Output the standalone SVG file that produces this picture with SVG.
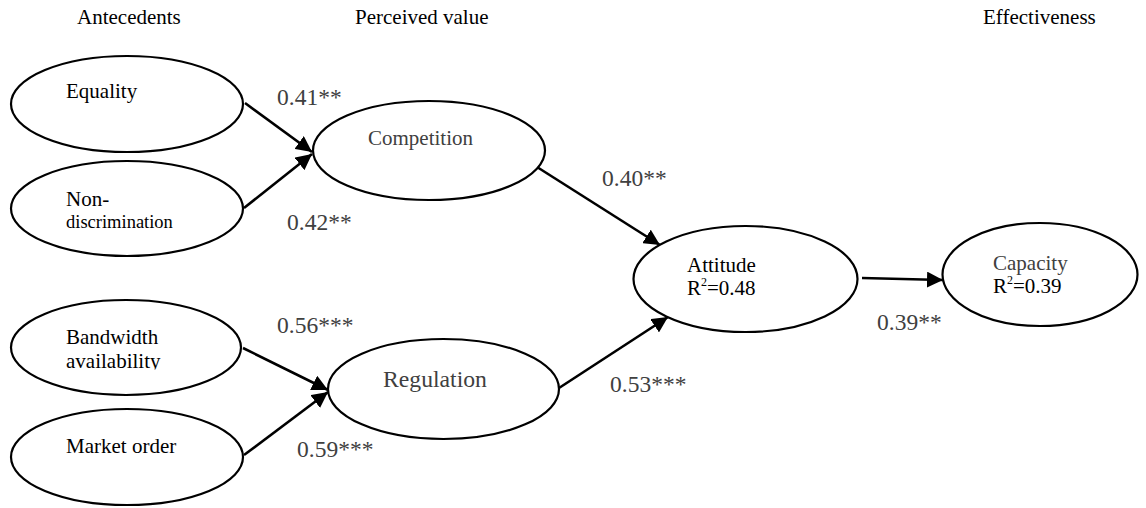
<svg xmlns="http://www.w3.org/2000/svg" width="1146" height="508" viewBox="0 0 1146 508">
<style>
  .node ellipse { fill: #ffffff; stroke: #000000; stroke-width: 2.2; }
  text { font-family: "Liberation Serif", "Times New Roman", serif; font-size: 21px; fill: #000000; }
  .gray { fill: #404040; }
  .coef { font-size: 23.5px; fill: #404040; }
  .edge { stroke: #000000; stroke-width: 2.6; fill: none; marker-end: url(#arrow); }
  .sup { font-size: 12px; }
</style>
<defs>
  <marker id="arrow" markerUnits="userSpaceOnUse" markerWidth="18" markerHeight="16" refX="16" refY="8" orient="auto">
    <path d="M0,0 L16,8 L0,16 z" fill="#000000"/>
  </marker>
  <clipPath id="clipAvail">
    <rect x="0" y="300" width="300" height="69.5"/>
  </clipPath>
</defs>
<rect width="1146" height="508" fill="#ffffff"/>

<g id="headers">
  <text x="77" y="24">Antecedents</text>
  <text x="355" y="24">Perceived value</text>
  <text x="983" y="24">Effectiveness</text>
</g>

<g id="connectors">
  <line class="edge" x1="245" y1="103" x2="312" y2="152"/>
  <line class="edge" x1="244" y1="208" x2="312" y2="154"/>
  <line class="edge" x1="243" y1="348" x2="328" y2="390"/>
  <line class="edge" x1="244" y1="455" x2="328" y2="392"/>
  <line class="edge" x1="537" y1="167" x2="660" y2="245"/>
  <line class="edge" x1="559" y1="388" x2="668" y2="317"/>
  <line class="edge" x1="862" y1="278" x2="943" y2="280"/>
  <text class="coef" x="277" y="105">0.41**</text>
  <text class="coef" x="287" y="230">0.42**</text>
  <text class="coef" x="277" y="333">0.56***</text>
  <text class="coef" x="297" y="457">0.59***</text>
  <text class="coef" x="602" y="186">0.40**</text>
  <text class="coef" x="610" y="392">0.53***</text>
  <text class="coef" x="877" y="330">0.39**</text>
</g>

<g id="equality" class="node">
  <ellipse cx="127" cy="104" rx="116" ry="48"/>
  <text x="66" y="98">Equality</text>
</g>

<g id="non-discrimination" class="node">
  <ellipse cx="127" cy="208.5" rx="116" ry="47.5"/>
  <text x="66" y="206">Non-</text>
  <text x="66" y="228" style="font-size:18.5px">discrimination</text>
</g>

<g id="bandwidth-availability" class="node">
  <ellipse cx="126" cy="347.5" rx="115" ry="47.5"/>
  <text x="66" y="344">Bandwidth</text>
  <text x="66" y="368" clip-path="url(#clipAvail)">availability</text>
</g>

<g id="market-order" class="node">
  <ellipse cx="127" cy="457" rx="116" ry="48"/>
  <text x="66" y="453">Market order</text>
</g>

<g id="competition" class="node">
  <ellipse cx="429" cy="150.5" rx="116" ry="49.5"/>
  <text class="gray" x="368" y="145">Competition</text>
</g>

<g id="regulation" class="node">
  <ellipse cx="443.5" cy="389" rx="115.5" ry="50"/>
  <text class="gray" x="383" y="387" style="font-size:23.7px">Regulation</text>
</g>

<g id="attitude" class="node">
  <ellipse cx="745.5" cy="279" rx="112" ry="53"/>
  <text x="687" y="272">Attitude</text>
  <text x="687" y="295">R<tspan class="sup" dy="-9">2</tspan><tspan dy="9">=0.48</tspan></text>
</g>

<g id="capacity" class="node">
  <ellipse cx="1040" cy="274.5" rx="97.5" ry="51.5"/>
  <text class="gray" x="993" y="270">Capacity</text>
  <text x="993" y="293">R<tspan class="sup" dy="-9">2</tspan><tspan dy="9">=0.39</tspan></text>
</g>
</svg>
